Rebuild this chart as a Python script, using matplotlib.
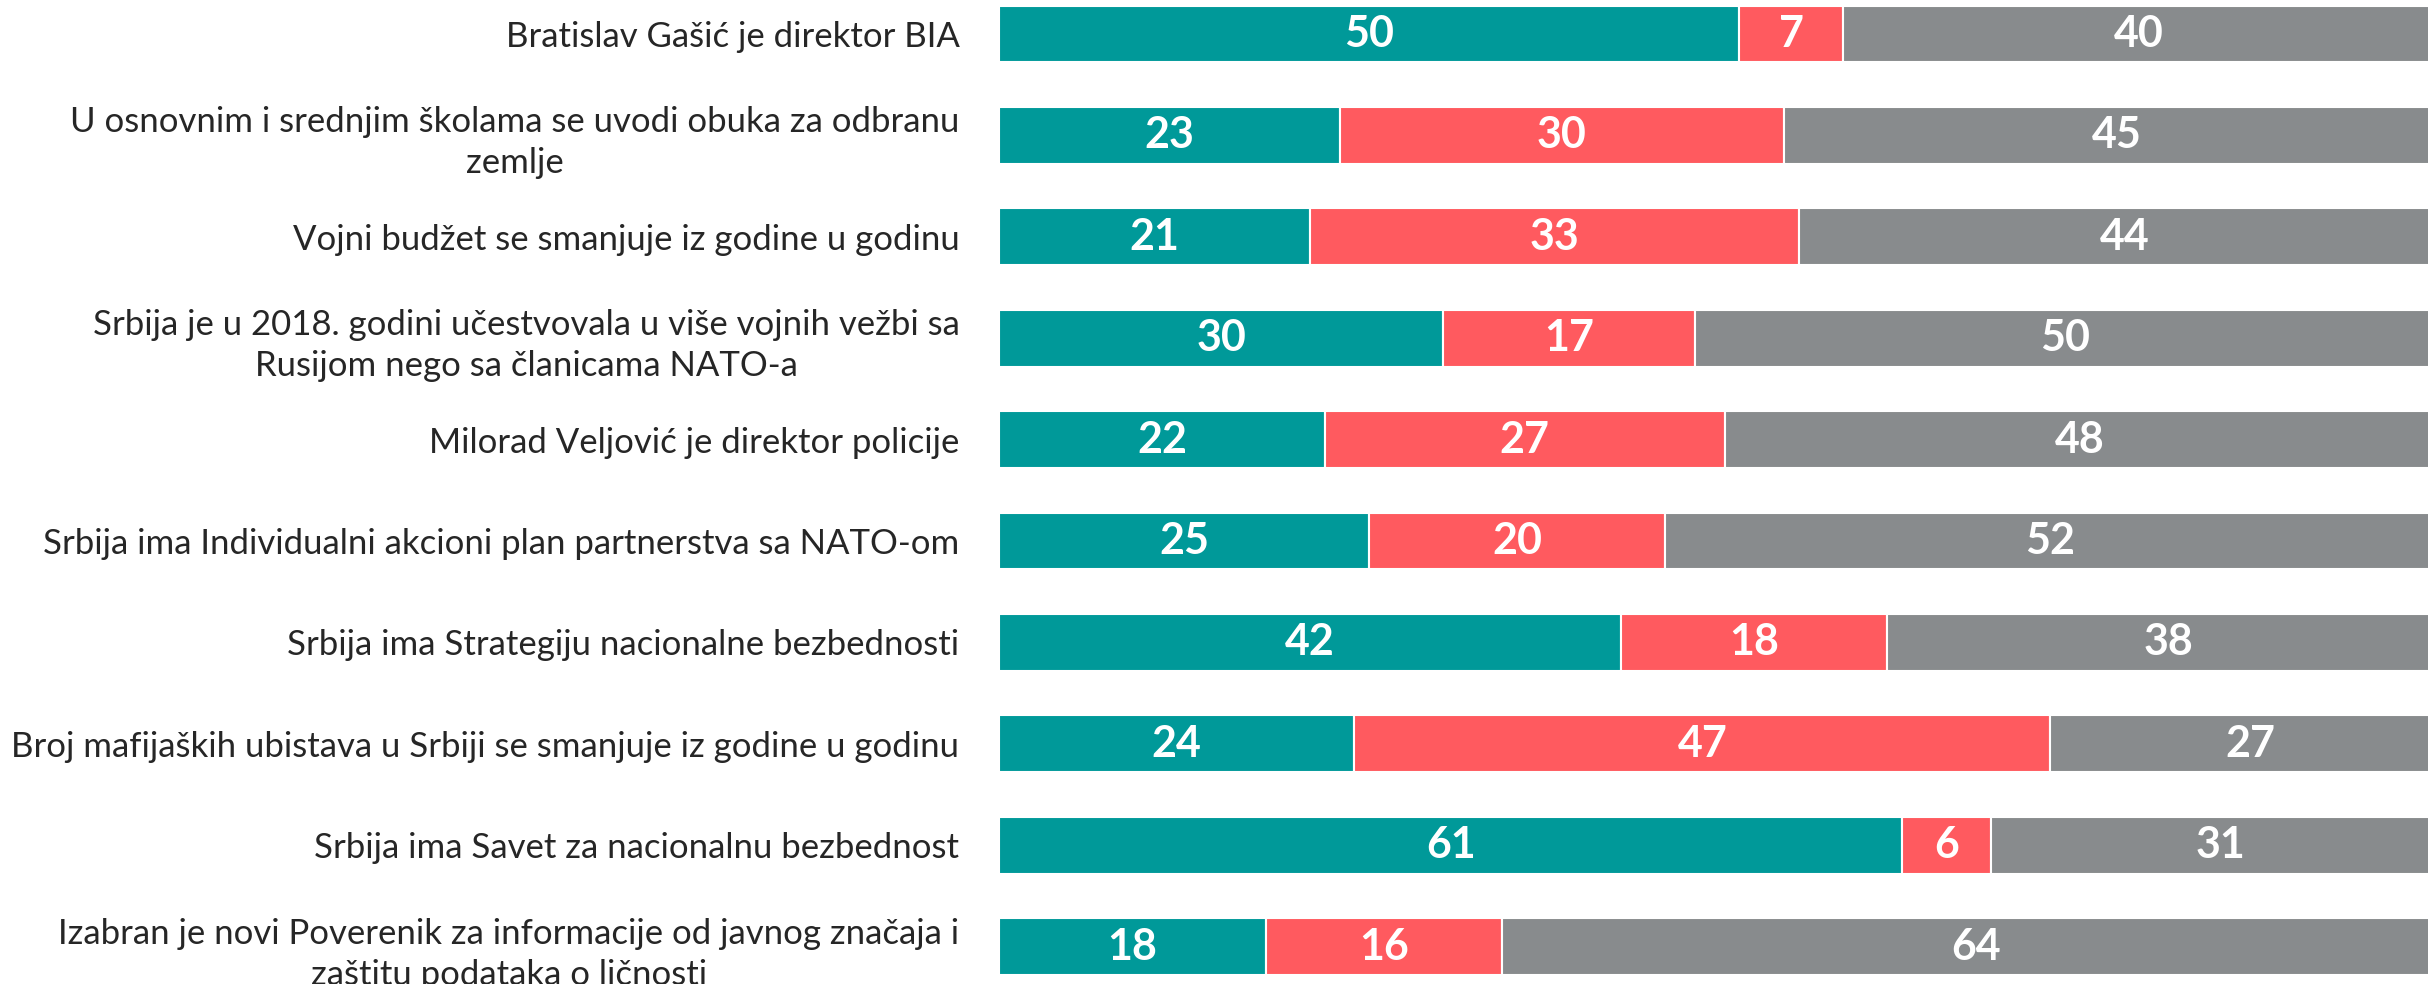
import matplotlib
matplotlib.use("Agg")
import matplotlib.pyplot as plt
import numpy as np

categories = [
    "Bratislav Gašić je direktor BIA",
    "U osnovnim i srednjim školama se uvodi obuka za odbranu\nzemlje",
    "Vojni budžet se smanjuje iz godine u godinu",
    "Srbija je u 2018. godini učestvovala u više vojnih vežbi sa\nRusijom nego sa članicama NATO-a",
    "Milorad Veljović je direktor policije",
    "Srbija ima Individualni akcioni plan partnerstva sa NATO-om",
    "Srbija ima Strategiju nacionalne bezbednosti",
    "Broj mafijaških ubistava u Srbiji se smanjuje iz godine u godinu",
    "Srbija ima Savet za nacionalnu bezbednost",
    "Izabran je novi Poverenik za informacije od javnog značaja i\nzaštitu podataka o ličnosti",
]
series_teal = [50, 23, 21, 30, 22, 25, 42, 24, 61, 18]
series_red = [7, 30, 33, 17, 27, 20, 18, 47, 6, 16]
series_gray = [40, 45, 44, 50, 48, 52, 38, 27, 31, 64]

colors = ["#009999", "#FF5A5F", "#888B8D"]

plt.rcParams['font.family'] = ['Lato', 'DejaVu Sans']

W, H = 2428, 984
dpi = 100
fig = plt.figure(figsize=(W / dpi, H / dpi), dpi=dpi)
ax = fig.add_axes([999 / W, 0, 1 - 999 / W, 1])

y = np.arange(len(categories))
left = np.zeros(len(categories))
for vals, col in zip([series_teal, series_red, series_gray], colors):
    vals = np.array(vals, dtype=float)
    ax.barh(y, vals, left=left, height=0.56, color=col,
            edgecolor="white", linewidth=1.5)
    for yi, l, v in zip(y, left, vals):
        ax.text(l + v / 2, yi, f"{int(v)}", ha="center", va="center",
                color="white", fontsize=31, fontweight="bold")
    left += vals

ax.set_xlim(0, 96.5)
ax.set_ylim(9.369, -0.335)
ax.set_yticks(y)
ax.set_yticklabels(categories, fontsize=25, color="#262626", linespacing=1.35)
for lbl in ax.get_yticklabels():
    lbl.set_multialignment("center")
ax.tick_params(axis="y", length=0, pad=28.5)
ax.set_xticks([])
for s in ax.spines.values():
    s.set_visible(False)

fig.savefig("out.png", dpi=dpi)
